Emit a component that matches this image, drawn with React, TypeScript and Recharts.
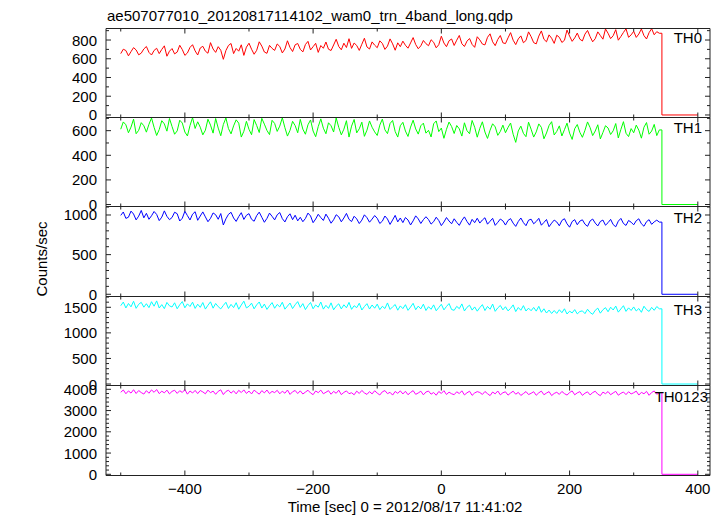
import React from 'react';
import { LineChart, Line, XAxis, YAxis } from 'recharts';

// 4 s bins, first bin at -500 s; all bands drop to zero at ~344 s
const BIN_START = -500;
const BIN_WIDTH = 4;
const DROP_T = 344;
const END_T = 400;

const th0 = [
  655, 702, 688, 631, 676, 719, 694, 642, 660, 705,
  731, 668, 640, 689, 712, 655, 700, 738, 627, 681,
  709, 652, 671, 744, 698, 636, 662, 721, 750, 684,
  640, 715, 733, 681, 659, 772, 704, 668, 729, 691,
  594, 688, 742, 763, 655, 710, 681, 749, 636, 724,
  766, 702, 648, 690, 781, 735, 672, 658, 743, 711,
  689, 758, 731, 662, 704, 792, 720, 677, 749, 763,
  701, 673, 752, 786, 694, 729, 765, 668, 741, 712,
  779, 702, 688, 747, 808, 731, 696, 766, 720, 814,
  711, 768, 742, 689, 755, 819, 726, 704, 780, 745,
  718, 791, 764, 700, 735, 812, 759, 691, 770, 729,
  788, 744, 713, 769, 826, 752, 707, 738, 795, 761,
  739, 803, 776, 717, 750, 841, 768, 729, 792, 811,
  742, 798, 849, 760, 731, 788, 816, 753, 722, 835,
  801, 757, 748, 829, 866, 781, 740, 806, 848, 770,
  762, 823, 879, 798, 751, 812, 844, 771, 795, 887,
  836, 772, 759, 842, 897, 808, 781, 855, 819, 764,
  851, 829, 774, 797, 906, 842, 786, 823, 874, 809,
  790, 863, 902, 836, 781, 814, 887, 848, 809, 918,
  872, 815, 846, 911, 798, 838, 881, 920, 829, 855,
  893, 828, 864, 918, 847, 811, 879, 921, 856, 889,
  872,
];

const th1 = [
  612, 671, 648, 583, 629, 694, 575, 603, 665, 640,
  588, 652, 703, 627, 561, 609, 681, 655, 596, 699,
  634, 571, 598, 685, 662, 589, 557, 641, 706, 618,
  672, 628, 566, 604, 693, 645, 580, 699, 621, 559,
  650, 703, 617, 574, 639, 688, 661, 548, 595, 676,
  611, 567, 690, 642, 585, 700, 653, 602, 568, 684,
  659, 594, 637, 705, 624, 556, 603, 676, 641, 583,
  692, 612, 571, 648, 687, 597, 551, 633, 696, 620,
  575, 664, 640, 589, 703, 627, 566, 612, 681, 548,
  637, 691, 582, 615, 669, 554, 604, 679, 628, 590,
  561, 645, 694, 607, 576, 658, 683, 593, 548, 640,
  668, 597, 553, 629, 685, 614, 572, 640, 661, 580,
  603, 549, 656, 679, 592, 621, 538, 611, 670, 634,
  577, 642, 615, 556, 664, 600, 575, 683, 628, 547,
  619, 672, 589, 537, 604, 656, 631, 562, 594, 645,
  583, 626, 662, 571, 505, 598, 637, 578, 551, 669,
  612, 548, 590, 655, 627, 534, 581, 642, 673, 565,
  594, 639, 557, 608, 661, 580, 529, 616, 650, 587,
  546, 603, 671, 625, 560, 597, 648, 533, 585, 640,
  622, 569, 599, 658, 541, 610, 673, 579, 552, 617,
  583, 645, 604, 539, 628, 666, 571, 597, 651, 560,
  606,
];

const th2 = [
  995, 1038, 957, 972, 1049, 1012, 938, 986, 1057, 964,
  1021, 946, 990, 1044, 1007, 929, 973, 1052, 983, 941,
  968, 1035, 1016, 924, 959, 1047, 992, 937, 1010, 1041,
  933, 987, 1039, 976, 915, 958, 1026, 1003, 946, 1018,
  874, 951, 1008, 1034, 962, 919, 980, 1029, 944, 996,
  1017, 946, 921, 992, 1036, 971, 908, 957, 1024, 983,
  938, 1002, 1031, 954, 912, 978, 1015, 941, 997, 926,
  971, 915, 956, 1024, 988, 903, 949, 1009, 967, 931,
  1011, 959, 896, 940, 1003, 977, 914, 962, 1020, 945,
  917, 984, 951, 892, 935, 1002, 966, 909, 948, 993,
  958, 893, 922, 987, 949, 881, 937, 995, 913, 962,
  904, 968, 937, 874, 926, 989, 951, 893, 941, 978,
  942, 885, 916, 972, 930, 866, 911, 968, 924, 889,
  952, 907, 869, 931, 976, 918, 872, 945, 903, 959,
  898, 937, 965, 884, 921, 958, 869, 907, 949, 926,
  873, 931, 954, 897, 856, 918, 962, 904, 865, 934,
  947, 889, 918, 958, 871, 906, 943, 852, 897, 936,
  912, 864, 931, 953, 889, 846, 917, 941, 877, 923,
  939, 884, 857, 925, 949, 898, 862, 918, 936, 871,
  903, 945, 879, 851, 922, 957, 893, 868, 931, 909,
  876, 928, 952, 889, 858, 916, 941, 882, 913, 935,
  910,
];

const th3 = [
  1531, 1602, 1487, 1574, 1509, 1618, 1480, 1559, 1597, 1502,
  1570, 1493, 1609, 1521, 1625, 1486, 1552, 1474, 1595, 1528,
  1506, 1588, 1471, 1549, 1612, 1490, 1567, 1515, 1600, 1478,
  1561, 1499, 1593, 1465, 1540, 1607, 1483, 1575, 1512, 1469,
  1536, 1598, 1477, 1557, 1494, 1590, 1462, 1544, 1620, 1488,
  1519, 1581, 1470, 1548, 1604, 1485, 1563, 1458, 1529, 1592,
  1481, 1556, 1507, 1599, 1463, 1524, 1583, 1475, 1550, 1611,
  1497, 1572, 1455, 1533, 1594, 1471, 1546, 1502, 1603, 1464,
  1538, 1479, 1587, 1451, 1522, 1568, 1468, 1549, 1490, 1596,
  1460, 1531, 1493, 1580, 1447, 1514, 1571, 1466, 1545, 1482,
  1562, 1454, 1520, 1476, 1585, 1458, 1509, 1554, 1443, 1527,
  1474, 1551, 1440, 1506, 1578, 1452, 1523, 1469, 1561, 1437,
  1512, 1461, 1547, 1432, 1495, 1559, 1449, 1516, 1573, 1456,
  1441, 1518, 1473, 1566, 1428, 1500, 1541, 1445, 1507, 1424,
  1494, 1552, 1436, 1517, 1462, 1563, 1421, 1488, 1536, 1450,
  1511, 1430, 1479, 1547, 1416, 1496, 1442, 1532, 1427, 1483,
  1433, 1497, 1425, 1519, 1402, 1471, 1388, 1446, 1379, 1437,
  1380, 1452, 1394, 1471, 1369, 1424, 1390, 1455, 1371, 1418,
  1430, 1376, 1462, 1398, 1363, 1441, 1484, 1385, 1452, 1493,
  1413, 1502, 1447, 1524, 1405, 1468, 1531, 1420, 1489, 1438,
  1507, 1428, 1476, 1402, 1521, 1455, 1419, 1498, 1441, 1515,
  1470,
];

const th0123 = [
  3860, 3968, 3791, 3925, 3822, 3981, 3803, 3941, 3847, 3776,
  3937, 3815, 3972, 3858, 3990, 3797, 3912, 3833, 3961, 3784,
  3902, 3955, 3807, 3934, 3852, 3986, 3772, 3921, 3826, 3948,
  3798, 3943, 3877, 3789, 3962, 3840, 3917, 3765, 3906, 3975,
  3752, 3897, 3958, 3819, 3929, 3786, 3951, 3848, 3973, 3806,
  3916, 3782, 3960, 3863, 3771, 3938, 3831, 3966, 3795, 3902,
  3845, 3953, 3787, 3911, 3816, 3967, 3760, 3884, 3945, 3801,
  3928, 3779, 3869, 3956, 3827, 3748, 3921, 3842, 3962, 3790,
  3861, 3937, 3768, 3902, 3813, 3959, 3751, 3854, 3924, 3793,
  3838, 3742, 3915, 3804, 3946, 3831, 3759, 3892, 3782, 3933,
  3822, 3733, 3881, 3940, 3796, 3858, 3728, 3899, 3810, 3926,
  3781, 3907, 3745, 3852, 3938, 3763, 3828, 3911, 3739, 3873,
  3918, 3771, 3849, 3721, 3896, 3806, 3935, 3754, 3867, 3790,
  3747, 3884, 3800, 3929, 3735, 3837, 3908, 3716, 3829, 3891,
  3850, 3758, 3897, 3795, 3703, 3872, 3786, 3920, 3740, 3838,
  3883, 3726, 3825, 3911, 3769, 3856, 3710, 3801, 3894, 3752,
  3812, 3887, 3719, 3835, 3915, 3744, 3823, 3892, 3705, 3806,
  3861, 3760, 3899, 3797, 3728, 3846, 3925, 3741, 3833, 3889,
  3714, 3816, 3880, 3735, 3843, 3909, 3772, 3701, 3868, 3794,
  3895, 3745, 3830, 3904, 3722, 3811, 3874, 3750, 3886, 3783,
  3837, 3912, 3729, 3858, 3790, 3902, 3718, 3849, 3921, 3765,
  3842,
];

const X_DOMAIN = [-523, 419];
const X_TICKS = [-500, -400, -300, -200, -100, 0, 100, 200, 300, 400];

const ticksTH0 = [0, 100, 200, 300, 400, 500, 600, 700, 800, 900];
const ticksTH1 = [0, 100, 200, 300, 400, 500, 600, 700];
const ticksTH2 = [0, 100, 200, 300, 400, 500, 600, 700, 800, 900, 1000, 1100];
const ticksTH3 = [0, 100, 200, 300, 400, 500, 600, 700, 800, 900, 1000, 1100, 1200, 1300, 1400, 1500, 1600, 1700];
const ticksTH0123 = [0, 200, 400, 600, 800, 1000, 1200, 1400, 1600, 1800, 2000, 2200, 2400, 2600, 2800, 3000, 3200, 3400, 3600, 3800, 4000];

const FONT = '"Liberation Sans", Arial, Helvetica, sans-serif';
const FRAME = '#222';
const PAD = 12;
const Y_W = 40; // left axis box, plot starts at x=106
const R_W = 10; // right axis box, plot ends at x=710
const X_H = 10;

const panels = [
  { name: 'TH0', values: th0, color: '#ff0000', domain: [-27, 923], ticks: ticksTH0, major: 200, top: 28, h: 89, labelX: 702, labelY: 37.5 },
  { name: 'TH1', values: th1, color: '#00ff00', domain: [-16, 707], ticks: ticksTH1, major: 200, top: 117, h: 89, labelX: 702, labelY: 127 },
  { name: 'TH2', values: th2, color: '#0000ff', domain: [-28, 1107], ticks: ticksTH2, major: 500, top: 206, h: 90, labelX: 702, labelY: 217.5 },
  { name: 'TH3', values: th3, color: '#00ffff', domain: [-29, 1711], ticks: ticksTH3, major: 500, top: 296, h: 89, labelX: 702, labelY: 309 },
  { name: 'TH0123', values: th0123, color: '#ff00ff', domain: [-56, 4179], ticks: ticksTH0123, major: 1000, top: 385, h: 90, labelX: 708, labelY: 396 },
];

const toRows = (values: number[]) => [
  ...values.map((v, i) => ({ t: BIN_START + i * BIN_WIDTH, v })),
  { t: DROP_T, v: values[values.length - 1] },
  { t: DROP_T, v: 0 },
  { t: END_T, v: 0 },
];

const fmt = (v: number) => (v < 0 ? '\u2212' + Math.abs(v) : String(v));

// qdp style: every tick points into the frame, majors longer
const tickFor = (side: string, major: number, showLabel: boolean) => (props: any) => {
  const { x, y, payload } = props;
  const v = payload.value;
  const isMajor = Math.abs(v % major) < 1e-6;
  const len = isMajor ? 5 : 3;
  let x2 = x;
  let y2 = y;
  if (side === 'left') x2 = x + len;
  if (side === 'right') x2 = x - len;
  if (side === 'bottom') y2 = y - len;
  if (side === 'top') y2 = y + len;
  return (
    <g>
      <line x1={x} y1={y} x2={x2} y2={y2} stroke={FRAME} strokeWidth={1} />
      {showLabel && isMajor && side === 'left' && (
        <text x={x - 9} y={y} textAnchor="end" dominantBaseline="central" fontFamily={FONT} fontSize={15} fill="#000">
          {fmt(v)}
        </text>
      )}
      {showLabel && isMajor && side === 'bottom' && (
        <text x={x} y={y + 13} textAnchor="middle" dominantBaseline="central" fontFamily={FONT} fontSize={15} fill="#000">
          {fmt(v)}
        </text>
      )}
    </g>
  );
};

const Panel = ({ p, last }: { p: any; last: boolean }) => {
  const extra = last ? 30 : 0;
  return (
    <div style={{ position: 'absolute', left: 0, top: p.top - PAD }}>
      <LineChart
        width={724}
        height={p.h + PAD * 2 + extra}
        data={toRows(p.values)}
        margin={{ top: PAD + 0.5 - X_H, right: 14 - R_W, bottom: PAD - 0.5 - X_H + extra, left: 106 - Y_W }}
      >
        <XAxis
          xAxisId="b"
          dataKey="t"
          type="number"
          orientation="bottom"
          domain={X_DOMAIN}
          allowDataOverflow
          ticks={X_TICKS}
          interval={0}
          height={X_H}
          tickSize={0}
          tickMargin={0}
          tickLine={false}
          axisLine={{ stroke: FRAME }}
          tick={tickFor('bottom', 200, last)}
        />
        <XAxis
          xAxisId="t"
          dataKey="t"
          type="number"
          orientation="top"
          domain={X_DOMAIN}
          allowDataOverflow
          ticks={X_TICKS}
          interval={0}
          height={X_H}
          tickSize={0}
          tickMargin={0}
          tickLine={false}
          axisLine={{ stroke: FRAME }}
          tick={tickFor('top', 200, false)}
        />
        <YAxis
          yAxisId="l"
          type="number"
          orientation="left"
          domain={p.domain}
          allowDataOverflow
          ticks={p.ticks}
          interval={0}
          width={Y_W}
          tickSize={0}
          tickMargin={0}
          tickLine={false}
          axisLine={{ stroke: FRAME }}
          tick={tickFor('left', p.major, true)}
        />
        <YAxis
          yAxisId="r"
          type="number"
          orientation="right"
          domain={p.domain}
          allowDataOverflow
          ticks={p.ticks}
          interval={0}
          width={R_W}
          tickSize={0}
          tickMargin={0}
          tickLine={false}
          axisLine={{ stroke: FRAME }}
          tick={tickFor('right', p.major, false)}
        />
        <Line
          xAxisId="t"
          yAxisId="r"
          type="linear"
          dataKey="v"
          stroke="none"
          dot={false}
          activeDot={false}
          legendType="none"
          isAnimationActive={false}
        />
        <Line
          xAxisId="b"
          yAxisId="l"
          type="linear"
          dataKey="v"
          stroke={p.color}
          strokeWidth={1}
          dot={false}
          activeDot={false}
          isAnimationActive={false}
        />
      </LineChart>
    </div>
  );
};

export default function App() {
  return (
    <div style={{ position: 'absolute', left: 0, top: 0, width: 724, height: 516, background: '#fff', overflow: 'hidden' }}>
      {panels.map((p, i) => (
        <Panel key={p.name} p={p} last={i === panels.length - 1} />
      ))}
      <svg width={724} height={516} style={{ position: 'absolute', left: 0, top: 0, pointerEvents: 'none' }}>
        <text x={107} y={21} fontFamily={FONT} fontSize={15} fill="#000">
          ae507077010_20120817114102_wam0_trn_4band_long.qdp
        </text>
        <text
          x={41}
          y={259}
          transform="rotate(-90 41 259)"
          textAnchor="middle"
          dominantBaseline="central"
          fontFamily={FONT}
          fontSize={15}
          fill="#000"
        >
          Counts/sec
        </text>
        <text x={405} y={506} textAnchor="middle" dominantBaseline="central" fontFamily={FONT} fontSize={15} fill="#000">
          Time [sec] 0 = 2012/08/17 11:41:02
        </text>
        {panels.map((p) => (
          <text
            key={p.name}
            x={p.labelX}
            y={p.labelY}
            textAnchor="end"
            dominantBaseline="central"
            fontFamily={FONT}
            fontSize={15}
            fill="#000"
          >
            {p.name}
          </text>
        ))}
      </svg>
    </div>
  );
}
